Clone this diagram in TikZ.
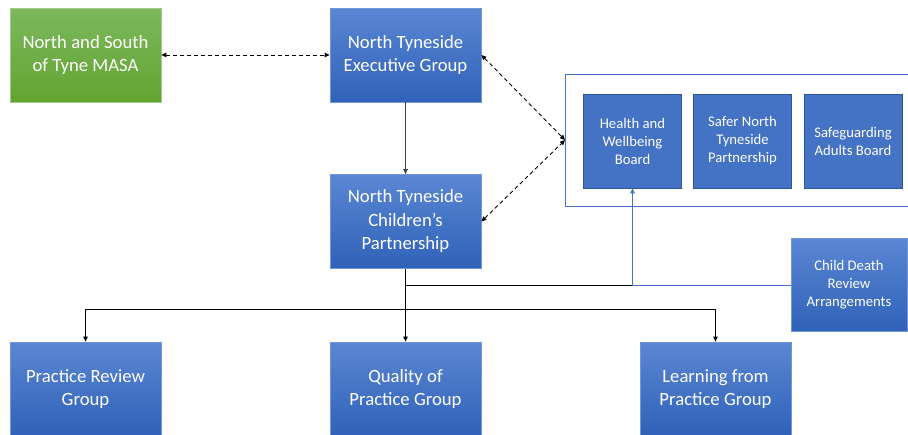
\documentclass[tikz,border=0pt]{standalone}
\usepackage{fontspec}
\setmainfont{Carlito}
\usetikzlibrary{arrows.meta}
\definecolor{gtop}{HTML}{7DB85E}
\definecolor{gbot}{HTML}{62A431}
\definecolor{gbrd}{HTML}{A2CD88}
\definecolor{btop}{HTML}{5B86D3}
\definecolor{bbot}{HTML}{2F62B8}
\definecolor{bbrd}{HTML}{7398DA}
\definecolor{flat}{HTML}{4472C4}
\definecolor{flatbrd}{HTML}{2F5597}
\definecolor{cont}{HTML}{4472C4}
\definecolor{stem}{HTML}{404040}
\tikzset{
  bigbox/.style={draw=bbrd, line width=0.8pt, top color=btop, bottom color=bbot,
    minimum width=151pt, minimum height=94pt, text=white, align=center,
    font=\fontsize{18.7}{23.5}\selectfont, inner sep=0pt},
  greenbox/.style={bigbox, draw=gbrd, top color=gtop, bottom color=gbot},
  smallbox/.style={draw=flatbrd, fill=flat, line width=0.8pt, minimum width=98pt,
    minimum height=94pt, text=white, align=center,
    font=\fontsize{14.7}{18}\selectfont, inner sep=0pt},
  cdrbox/.style={bigbox, minimum width=116pt, minimum height=93pt,
    font=\fontsize{14.7}{18}\selectfont},
  tip/.style={-{Triangle[length=5pt,width=4.5pt]}},
  bitip/.style={{Triangle[length=5pt,width=4.5pt]}-{Triangle[length=5pt,width=4.5pt]}},
  dashlink/.style={bitip, dashed, line width=0.9pt, dash pattern=on 4pt off 3pt},
  blackline/.style={line width=0.9pt, black},
  container/.style={draw=cont, line width=0.9pt}
}
\begin{document}
\begin{tikzpicture}[x=1pt,y=-1pt]
\useasboundingbox (0,0) rectangle (908,434);
\fill[white] (0,0) rectangle (908,434);
\clip (0,0) rectangle (908,434);

% container
\draw[container] (912,74) -| (565,206) -- (912,206);
\coordinate (hub) at (565,140);

\node[greenbox] (masa) at (85.5,55) {North and South\\of Tyne MASA};
\node[bigbox] (exec) at (405.5,55) {North Tyneside\\Executive Group};
\node[bigbox] (cp) at (405.5,221.5) {North Tyneside\\Children’s\\Partnership};

\node[smallbox] (health) at (632.5,141) {Health and\\Wellbeing\\Board};
\node[smallbox] (safer) at (742.5,141) {Safer North\\Tyneside\\Partnership};
\node[smallbox] (sab) at (853,141) {Safeguarding\\Adults Board};

\node[cdrbox] (cdr) at (849,285) {Child Death\\Review\\Arrangements};

\node[bigbox] (prg) at (85.5,389) {Practice Review\\Group};
\node[bigbox] (qpg) at (405.5,389) {Quality of\\Practice Group};
\node[bigbox] (lpg) at (715.5,389) {Learning from\\Practice Group};

% connectors
\draw[dashlink] (masa.east) -- (exec.west);
\draw[dashlink] (exec.east) -- (hub);
\draw[dashlink] (cp.east) -- (hub);
\draw[tip, line width=1pt, stem] (exec) -- (cp);

\coordinate (j2) at (health.south |- cdr.west);
\coordinate (j1) at (cp.south |- cdr.west);
\coordinate (bus) at (405.5,309);
\draw[blackline] (j1) -- (j2);
\draw[tip, container] (cdr.west) -| (health.south);
\draw[tip, blackline] (cp.south) -- (qpg.north);
\draw[tip, blackline] (bus) -| (prg.north);
\draw[tip, blackline] (bus) -| (lpg.north);
\end{tikzpicture}
\end{document}
